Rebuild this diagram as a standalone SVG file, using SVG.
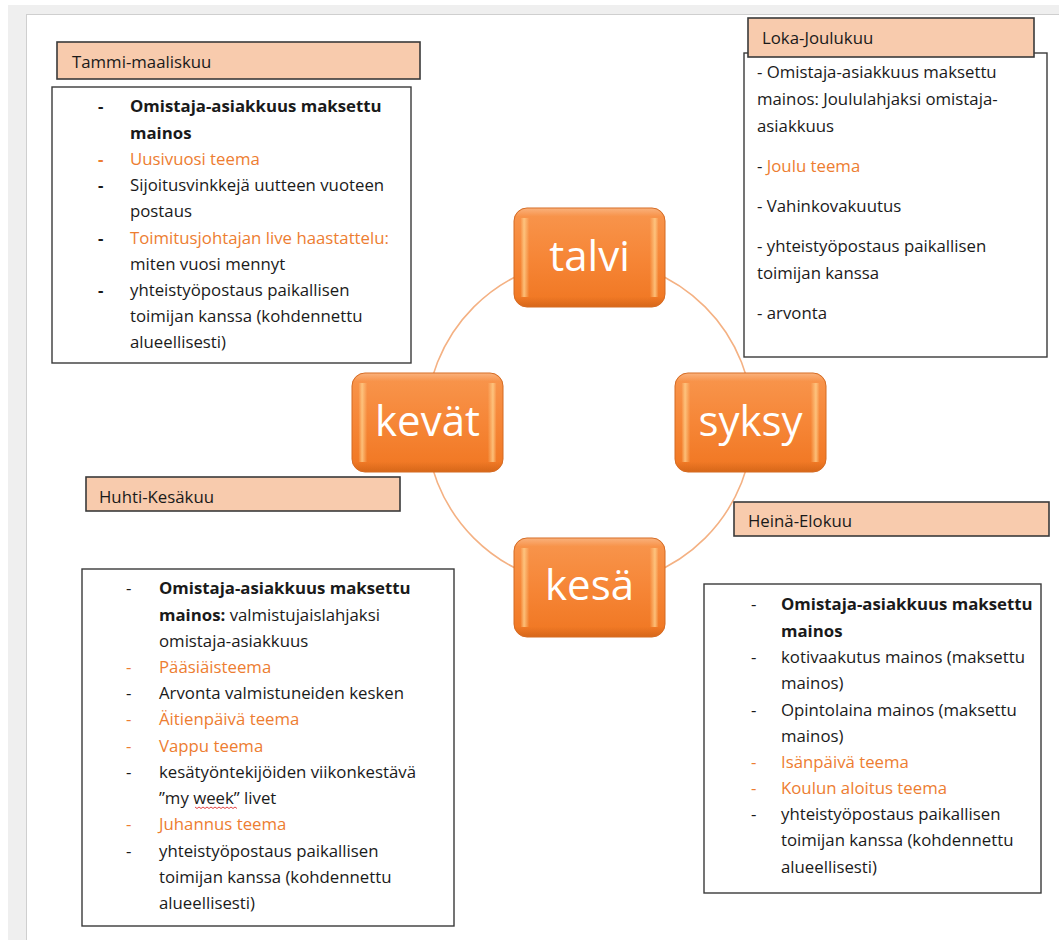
<svg xmlns="http://www.w3.org/2000/svg" width="1059" height="940" viewBox="0 0 1059 940">
<style>
.t{font-family:"Open Sans","Liberation Sans",sans-serif;font-size:16.8px;fill:#1a1a1a}
.b{font-weight:bold}
.o{fill:#ed7d31}
.lbl{fill:#f8cbad;stroke:#3a3a3a;stroke-width:1.6}
.box{fill:#ffffff;stroke:#3a3a3a;stroke-width:1.4}
.nl{font-family:"Open Sans","Liberation Sans",sans-serif;font-size:42px;fill:#ffffff;text-anchor:middle}
</style>
<defs>
<linearGradient id="nodeFill" x1="0" y1="0" x2="0" y2="1">
<stop offset="0" stop-color="#f8964e"/>
<stop offset="0.5" stop-color="#f68637"/>
<stop offset="1" stop-color="#f07621"/>
</linearGradient>
<linearGradient id="nodeEdge" x1="0" y1="0" x2="1" y2="0">
<stop offset="0" stop-color="#ffd08c" stop-opacity="0"/>
<stop offset="0.03" stop-color="#ffd08c" stop-opacity="0"/>
<stop offset="0.055" stop-color="#ffd08c" stop-opacity="0.8"/>
<stop offset="0.09" stop-color="#ffd08c" stop-opacity="0"/>
<stop offset="0.91" stop-color="#ffd08c" stop-opacity="0"/>
<stop offset="0.945" stop-color="#ffd08c" stop-opacity="0.8"/>
<stop offset="0.97" stop-color="#ffd08c" stop-opacity="0"/>
<stop offset="1" stop-color="#ffd08c" stop-opacity="0"/>
</linearGradient>
<linearGradient id="nodeShade" x1="0" y1="0" x2="0" y2="1">
<stop offset="0" stop-color="#ffffff" stop-opacity="0.25"/>
<stop offset="0.08" stop-color="#ffffff" stop-opacity="0"/>
<stop offset="0.9" stop-color="#a94d0c" stop-opacity="0"/>
<stop offset="1" stop-color="#a94d0c" stop-opacity="0.35"/>
</linearGradient>
<g id="nodeShape">
<rect x="0" y="0" width="151" height="99" rx="13" fill="url(#nodeFill)" stroke="#d46a22" stroke-width="1"/>
<rect x="2" y="10" width="147" height="79" fill="url(#nodeEdge)"/>
<rect x="0.5" y="0.5" width="150" height="98" rx="13" fill="url(#nodeShade)"/>
</g>
</defs>

<g id="page">
<rect x="0" y="0" width="1059" height="940" fill="#ffffff"/>
<rect x="8" y="5" width="1051" height="9" fill="#efefef"/>
<rect x="8" y="5" width="18" height="935" fill="#efefef"/>
<line x1="26" y1="14.5" x2="1059" y2="14.5" stroke="#cfcfcf" stroke-width="1"/>
<line x1="26.5" y1="14" x2="26.5" y2="940" stroke="#cfcfcf" stroke-width="1"/>
</g>

<g id="connectors">
<circle cx="589.5" cy="422.5" r="163.5" fill="none" stroke="#f4b183" stroke-width="1.6"/>
</g>

<g id="node-talvi">
<use href="#nodeShape" x="514" y="208"/>
<text class="nl" x="589.5" y="271">talvi</text>
</g>
<g id="node-kevat">
<use href="#nodeShape" x="352" y="373"/>
<text class="nl" x="427.5" y="436">kevät</text>
</g>
<g id="node-syksy">
<use href="#nodeShape" x="675" y="373"/>
<text class="nl" x="750.5" y="436">syksy</text>
</g>
<g id="node-kesa">
<use href="#nodeShape" x="514" y="538"/>
<text class="nl" x="589.5" y="600">kesä</text>
</g>

<g id="label-tammi">
<rect class="lbl" x="57" y="42" width="363" height="37"/>
<text class="t" x="72" y="68">Tammi-maaliskuu</text>
</g>
<g id="box-tammi">
<rect class="box" x="52" y="87" width="359" height="276"/>
<text class="t b" x="98" y="112">-</text><text class="t b" x="130" y="112">Omistaja-asiakkuus maksettu</text>
<text class="t b" x="130" y="139">mainos</text>
<text class="t b o" x="98" y="165">-</text><text class="t o" x="130" y="165">Uusivuosi teema</text>
<text class="t b" x="98" y="191">-</text><text class="t" x="130" y="191">Sijoitusvinkkejä uutteen vuoteen</text>
<text class="t" x="130" y="217">postaus</text>
<text class="t b" x="98" y="244">-</text><text class="t o" x="130" y="244">Toimitusjohtajan live haastattelu:</text>
<text class="t" x="130" y="270">miten vuosi mennyt</text>
<text class="t b" x="98" y="296">-</text><text class="t" x="130" y="296">yhteistyöpostaus paikallisen</text>
<text class="t" x="130" y="322">toimijan kanssa (kohdennettu</text>
<text class="t" x="130" y="348">alueellisesti)</text>
</g>

<g id="box-loka">
<rect class="box" x="744" y="53" width="303" height="304"/>
<text class="t" x="757" y="78">- Omistaja-asiakkuus maksettu</text>
<text class="t" x="757" y="105">mainos: Joululahjaksi omistaja-</text>
<text class="t" x="757" y="132">asiakkuus</text>
<text class="t" x="757" y="172">- <tspan class="o">Joulu teema</tspan></text>
<text class="t" x="757" y="212">- Vahinkovakuutus</text>
<text class="t" x="757" y="252">- yhteistyöpostaus paikallisen</text>
<text class="t" x="757" y="279">toimijan kanssa</text>
<text class="t" x="757" y="319">- arvonta</text>
</g>
<g id="label-loka">
<rect class="lbl" x="748" y="18" width="286" height="39"/>
<text class="t" x="762" y="44">Loka-Joulukuu</text>
</g>

<g id="label-huhti">
<rect class="lbl" x="86" y="477" width="314" height="34"/>
<text class="t" x="99" y="503">Huhti-Kesäkuu</text>
</g>
<g id="box-huhti">
<rect class="box" x="82" y="569" width="372" height="357"/>
<text class="t" x="126" y="594">-</text><text class="t b" x="159" y="594">Omistaja-asiakkuus maksettu</text>
<text class="t" x="159" y="620.5"><tspan class="b">mainos:</tspan> valmistujaislahjaksi</text>
<text class="t" x="159" y="646.5">omistaja-asiakkuus</text>
<text class="t o" x="126" y="672.5">-</text><text class="t o" x="159" y="672.5">Pääsiäisteema</text>
<text class="t" x="126" y="699">-</text><text class="t" x="159" y="699">Arvonta valmistuneiden kesken</text>
<text class="t o" x="126" y="725">-</text><text class="t o" x="159" y="725">Äitienpäivä teema</text>
<text class="t o" x="126" y="751.5">-</text><text class="t o" x="159" y="751.5">Vappu teema</text>
<text class="t" x="126" y="778">-</text><text class="t" x="159" y="778">kesätyöntekijöiden viikonkestävä</text>
<text class="t" x="159" y="804">”my week” livet</text>
<path d="M195,807 l2,1.5 l2,-1.5 l2,1.5 l2,-1.5 l2,1.5 l2,-1.5 l2,1.5 l2,-1.5 l2,1.5 l2,-1.5 l2,1.5 l2,-1.5 l2,1.5 l2,-1.5 l2,1.5 l2,-1.5 l2,1.5 l2,-1.5 l2,1.5 l2,-1.5 l2,1.5" fill="none" stroke="#e03030" stroke-width="0.9"/>
<text class="t o" x="126" y="830">-</text><text class="t o" x="159" y="830">Juhannus teema</text>
<text class="t" x="126" y="856.5">-</text><text class="t" x="159" y="856.5">yhteistyöpostaus paikallisen</text>
<text class="t" x="159" y="882.5">toimijan kanssa (kohdennettu</text>
<text class="t" x="159" y="909">alueellisesti)</text>
</g>

<g id="label-heina">
<rect class="lbl" x="734" y="502" width="315" height="34"/>
<text class="t" x="748" y="527">Heinä-Elokuu</text>
</g>
<g id="box-heina">
<rect class="box" x="704" y="584" width="337" height="309"/>
<text class="t" x="751" y="610">-</text><text class="t b" x="781" y="610">Omistaja-asiakkuus maksettu</text>
<text class="t b" x="781" y="636.5">mainos</text>
<text class="t" x="751" y="663">-</text><text class="t" x="781" y="663">kotivaakutus mainos (maksettu</text>
<text class="t" x="781" y="689">mainos)</text>
<text class="t" x="751" y="715.5">-</text><text class="t" x="781" y="715.5">Opintolaina mainos (maksettu</text>
<text class="t" x="781" y="741.5">mainos)</text>
<text class="t o" x="751" y="767.5">-</text><text class="t o" x="781" y="767.5">Isänpäivä teema</text>
<text class="t o" x="751" y="794">-</text><text class="t o" x="781" y="794">Koulun aloitus teema</text>
<text class="t" x="751" y="820">-</text><text class="t" x="781" y="820">yhteistyöpostaus paikallisen</text>
<text class="t" x="781" y="846">toimijan kanssa (kohdennettu</text>
<text class="t" x="781" y="872.5">alueellisesti)</text>
</g>
</svg>
